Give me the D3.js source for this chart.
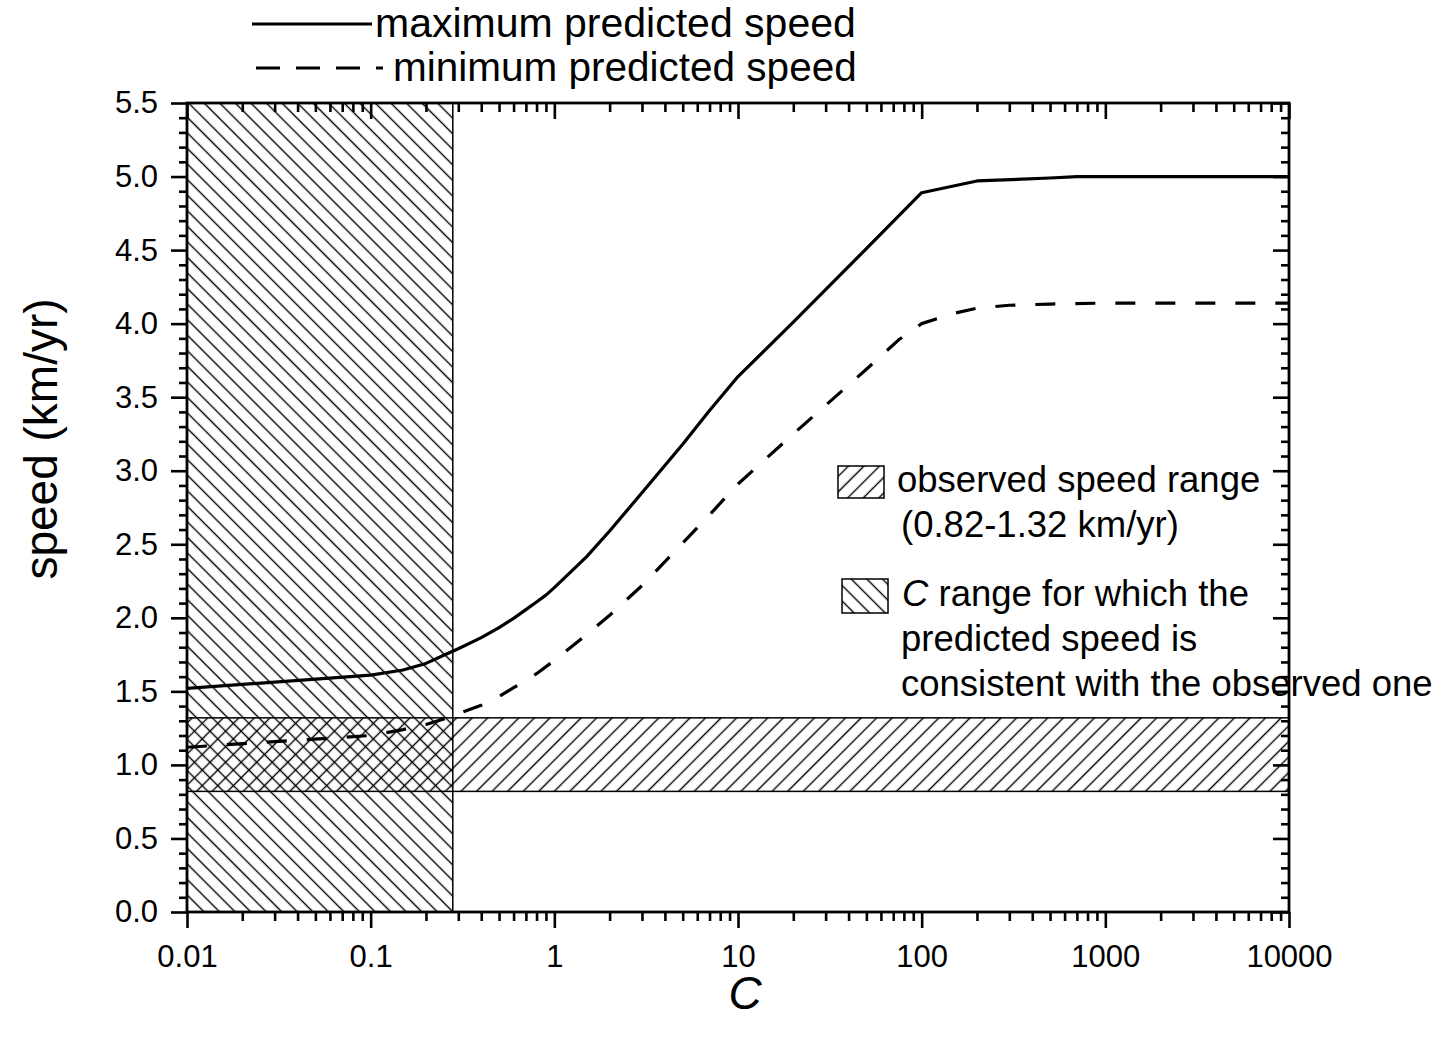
<!DOCTYPE html>
<html>
<head>
<meta charset="utf-8">
<script src="https://cdn.jsdelivr.net/npm/d3@7"></script>
<style>
  html, body { margin: 0; padding: 0; background: #fff; }
  svg { display: block; font-family: "Liberation Sans", Arial, sans-serif; }
</style>
</head>
<body>
<svg id="chart" width="1439" height="1039"></svg>
<script>
// ---------- data ----------
const MAX_C     = [0.01, 0.1, 0.15, 0.2, 0.25, 0.3, 0.4, 0.5, 0.6, 0.7, 0.8, 0.9, 1, 1.5, 2, 3, 5, 7, 10, 20, 50, 100, 200, 500, 700, 10000];
const MAX_SPEED = [1.52, 1.61, 1.645, 1.69, 1.745, 1.79, 1.865, 1.933, 1.996, 2.056, 2.108, 2.154, 2.205, 2.416, 2.59, 2.85, 3.18, 3.41, 3.64, 4.01, 4.51, 4.89, 4.97, 4.99, 5.0, 5.0];
const MIN_C     = [0.01, 0.1, 0.15, 0.2, 0.25, 0.3, 0.4, 0.5, 0.6, 0.8, 1, 1.5, 2, 3, 5, 7, 10, 20, 50, 75, 100, 150, 200, 300, 500, 1000, 10000];
const MIN_SPEED = [1.12, 1.20, 1.24, 1.275, 1.312, 1.348, 1.405, 1.465, 1.525, 1.62, 1.71, 1.886, 2.017, 2.219, 2.508, 2.70, 2.91, 3.25, 3.69, 3.89, 4.00, 4.07, 4.105, 4.125, 4.133, 4.14, 4.14];
const OBS_RANGE = [0.82, 1.32];      // observed speed range (km/yr)
const C_RANGE   = [0.01, 0.28];      // consistent C range
const X_TICKS   = [0.01, 0.1, 1, 10, 100, 1000, 10000];
const X_LABELS  = ["0.01", "0.1", "1", "10", "100", "1000", "10000"];
const Y_TICKS   = [0, 0.5, 1, 1.5, 2, 2.5, 3, 3.5, 4, 4.5, 5, 5.5];
const Y_LABELS  = ["0.0", "0.5", "1.0", "1.5", "2.0", "2.5", "3.0", "3.5", "4.0", "4.5", "5.0", "5.5"];
const X_DOMAIN  = [0.01, 10000];
const Y_DOMAIN  = [0, 5.5];
const LEGEND_TOP = ["maximum predicted speed", "minimum predicted speed"];

// ---------- layout ----------
const svg = d3.select("#chart");
const L = 187, R = 1289, T = 103, B = 912;
const x = d3.scaleLog().domain(X_DOMAIN).range([L, R]);
const y = d3.scaleLinear().domain(Y_DOMAIN).range([B, T]);

// ---------- patterns ----------
const defs = svg.append("defs");
function hatch(id, angle) {
  const p = defs.append("pattern").attr("id", id)
    .attr("patternUnits", "userSpaceOnUse")
    .attr("width", 11).attr("height", 11)
    .attr("patternTransform", `rotate(${angle})`);
  p.append("line").attr("x1", 5.5).attr("y1", -2).attr("x2", 5.5).attr("y2", 13)
    .attr("stroke", "#000").attr("stroke-width", 1.4);
}
hatch("back", -45);   // "\" hatch
hatch("fwd", 45);     // "/" hatch

defs.append("clipPath").attr("id", "plotclip")
  .append("rect").attr("x", L).attr("y", T).attr("width", R - L).attr("height", B - T);

// C range rectangle
svg.append("rect")
  .attr("x", x(C_RANGE[0])).attr("y", y(Y_DOMAIN[1]))
  .attr("width", x(C_RANGE[1]) - x(C_RANGE[0]))
  .attr("height", y(Y_DOMAIN[0]) - y(Y_DOMAIN[1]))
  .attr("fill", "url(#back)").attr("stroke", "#000").attr("stroke-width", 1.5);

// observed band
svg.append("rect")
  .attr("x", x(X_DOMAIN[0])).attr("y", y(OBS_RANGE[1]))
  .attr("width", x(X_DOMAIN[1]) - x(X_DOMAIN[0]))
  .attr("height", y(OBS_RANGE[0]) - y(OBS_RANGE[1]))
  .attr("fill", "url(#fwd)").attr("stroke", "#000").attr("stroke-width", 1.5);

// ---------- curves ----------
const line = d3.line().x(d => x(d[0])).y(d => y(d[1])).curve(d3.curveLinear);
const gCurves = svg.append("g").attr("clip-path", "url(#plotclip)");
gCurves.append("path").datum(MAX_C.map((c, i) => [c, MAX_SPEED[i]]))
  .attr("d", line).attr("fill", "none").attr("stroke", "#000").attr("stroke-width", 3.2)
  .attr("stroke-linejoin", "round");
gCurves.append("path").datum(MIN_C.map((c, i) => [c, MIN_SPEED[i]]))
  .attr("d", line).attr("fill", "none").attr("stroke", "#000").attr("stroke-width", 3.2)
  .attr("stroke-linejoin", "round").attr("stroke-dasharray", "20,20");

// ---------- axes ----------
const minorX = [];
for (let e = -2; e < 4; e++) for (let k = 2; k <= 9; k++) minorX.push(k * Math.pow(10, e));
const minorY = d3.range(0, 56).map(v => v / 10).filter(v => Math.round(v * 10) % 5 !== 0);

function styleAxis(g) {
  g.select(".domain").remove();
  g.selectAll(".tick line").attr("stroke", "#000").attr("stroke-width", 2.6);
  g.selectAll("text").attr("font-size", 31).attr("fill", "#000")
    .attr("font-family", '"Liberation Sans", Arial, sans-serif');
}
// bottom
svg.append("g").attr("transform", `translate(0,${B})`)
  .call(d3.axisBottom(x).tickValues(X_TICKS).tickSize(16).tickPadding(17)
    .tickFormat((d, i) => X_LABELS[i])).call(styleAxis);
svg.append("g").attr("transform", `translate(0,${B})`)
  .call(d3.axisBottom(x).tickValues(minorX).tickSize(9).tickFormat("")).call(styleAxis);
// top (ticks inward)
svg.append("g").attr("transform", `translate(0,${T})`)
  .call(d3.axisBottom(x).tickValues(X_TICKS).tickSize(16).tickFormat("")).call(styleAxis);
svg.append("g").attr("transform", `translate(0,${T})`)
  .call(d3.axisBottom(x).tickValues(minorX).tickSize(9).tickFormat("")).call(styleAxis);
// left
svg.append("g").attr("transform", `translate(${L},0)`)
  .call(d3.axisLeft(y).tickValues(Y_TICKS).tickSize(16).tickPadding(13)
    .tickFormat((d, i) => Y_LABELS[i])).call(styleAxis);
svg.append("g").attr("transform", `translate(${L},0)`)
  .call(d3.axisLeft(y).tickValues(minorY).tickSize(8).tickFormat("")).call(styleAxis);
// right (ticks inward)
svg.append("g").attr("transform", `translate(${R},0)`)
  .call(d3.axisLeft(y).tickValues(Y_TICKS).tickSize(16).tickFormat("")).call(styleAxis);
svg.append("g").attr("transform", `translate(${R},0)`)
  .call(d3.axisLeft(y).tickValues(minorY).tickSize(8).tickFormat("")).call(styleAxis);

// frame
svg.append("rect").attr("x", L).attr("y", T).attr("width", R - L).attr("height", B - T)
  .attr("fill", "none").attr("stroke", "#000").attr("stroke-width", 2.8);

// ---------- titles ----------
svg.append("text").attr("x", 745).attr("y", 1009).attr("text-anchor", "middle")
  .attr("font-size", 46).attr("font-style", "italic").text("C");
svg.append("text").attr("transform", "translate(57,439) rotate(-90)")
  .attr("text-anchor", "middle").attr("font-size", 46).text("speed (km/yr)");

// ---------- top legend ----------
svg.append("line").attr("x1", 252).attr("x2", 372).attr("y1", 24).attr("y2", 24)
  .attr("stroke", "#000").attr("stroke-width", 3.2);
svg.append("line").attr("x1", 256).attr("x2", 383).attr("y1", 68).attr("y2", 68)
  .attr("stroke", "#000").attr("stroke-width", 3.2).attr("stroke-dasharray", "24,16");
svg.append("text").attr("x", 375).attr("y", 37).attr("font-size", 41).text(LEGEND_TOP[0]);
svg.append("text").attr("x", 393).attr("y", 81).attr("font-size", 40.5).text(LEGEND_TOP[1]);

// ---------- right legend ----------
svg.append("rect").attr("x", 838).attr("y", 466).attr("width", 46).attr("height", 32)
  .attr("fill", "url(#fwd)").attr("stroke", "#000").attr("stroke-width", 1.5);
svg.append("rect").attr("x", 842).attr("y", 579).attr("width", 46).attr("height", 34)
  .attr("fill", "url(#back)").attr("stroke", "#000").attr("stroke-width", 1.5);
const lg = svg.append("g").attr("font-size", 36.5);
lg.append("text").attr("x", 897).attr("y", 492).text("observed speed range");
lg.append("text").attr("x", 901).attr("y", 537).text("(0.82-1.32 km/yr)");
const t3 = lg.append("text").attr("x", 902).attr("y", 606);
t3.append("tspan").attr("font-style", "italic").text("C");
t3.append("tspan").text(" range for which the");
lg.append("text").attr("x", 901).attr("y", 651).text("predicted speed is");
lg.append("text").attr("x", 901).attr("y", 696).text("consistent with the observed one");
</script>
</body>
</html>
